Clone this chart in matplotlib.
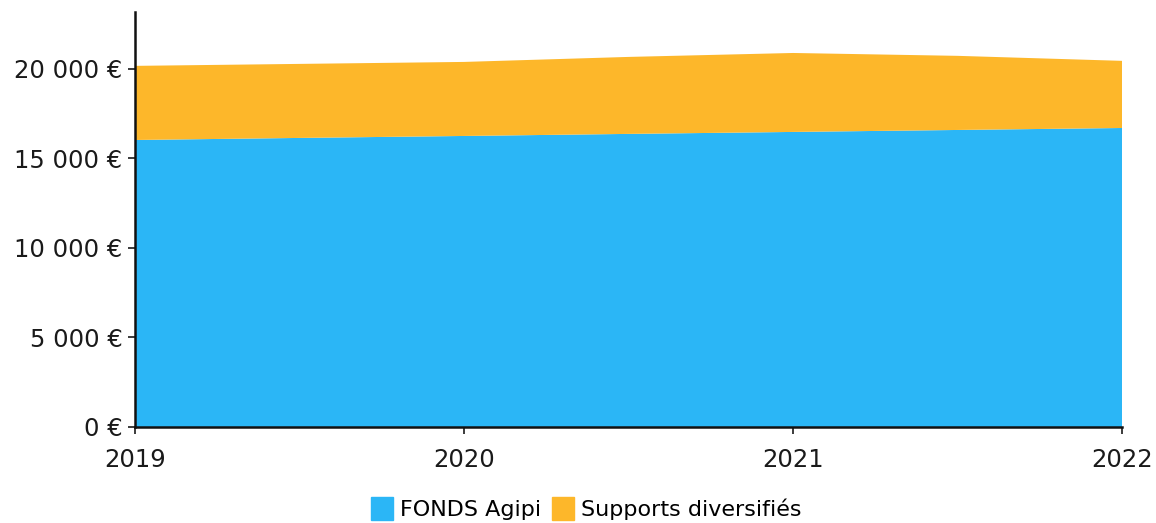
import matplotlib.pyplot as plt
from matplotlib.patches import Patch
from matplotlib.ticker import FuncFormatter

# Valeurs (semestrielles)
annees = [2019, 2019.5, 2020, 2020.5, 2021, 2021.5, 2022]
fonds_agipi = [16030, 16145, 16255, 16370, 16480, 16590, 16700]
total = [20170, 20280, 20390, 20670, 20890, 20730, 20450]
supports_diversifies = [t - f for t, f in zip(total, fonds_agipi)]

ticks_x = [2019, 2020, 2021, 2022]
ticks_y = [0, 5000, 10000, 15000, 20000]

BLEU = "#2bb6f6"
ORANGE = "#fdb72a"


def euro(v, _):
    return "{:,.0f} €".format(v).replace(",", " ")


fig = plt.figure(figsize=(11.56, 5.23), dpi=100)
ax = fig.add_axes([0.1168, 0.1836, 0.8538, 0.7935])

ax.stackplot(annees, fonds_agipi, supports_diversifies,
             colors=[BLEU, ORANGE], linewidth=0)

ax.set_xlim(2019, 2022)
ax.set_ylim(0, 23180)
ax.set_xticks(ticks_x)
ax.set_xticklabels([str(a) for a in ticks_x])
ax.set_yticks(ticks_y)
ax.yaxis.set_major_formatter(FuncFormatter(euro))

for s in ["top", "right"]:
    ax.spines[s].set_visible(False)
for s in ["left", "bottom"]:
    ax.spines[s].set_color("#111111")
    ax.spines[s].set_linewidth(1.8)

ax.tick_params(axis="y", labelsize=17.5, length=5, width=1.2, pad=4, colors="#1a1a1a")
ax.tick_params(axis="x", labelsize=17.5, length=5, width=1.2, pad=10, colors="#1a1a1a")

handles = [Patch(color=BLEU), Patch(color=ORANGE)]
fig.legend(handles, ["FONDS Agipi", "Supports diversifiés"],
           loc="center", bbox_to_anchor=(0.507, 0.027), ncol=2, frameon=False,
           fontsize=16, handlelength=1.0, handleheight=1.2,
           handletextpad=0.3, columnspacing=0.5, borderpad=0)

fig.savefig("out.png", dpi=100)
